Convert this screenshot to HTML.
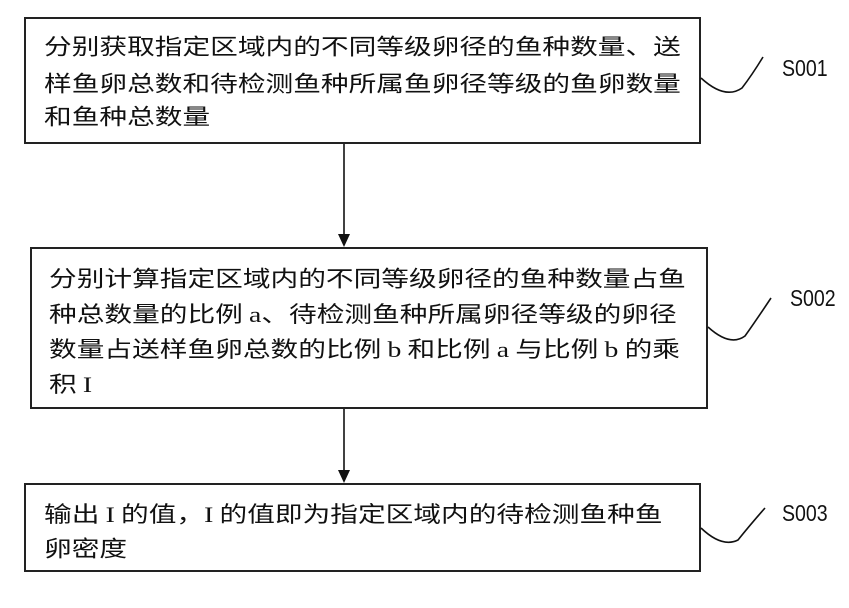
<!DOCTYPE html>
<html><head><meta charset="utf-8"><style>
html,body{margin:0;padding:0;background:#fff;}
body{width:849px;height:608px;position:relative;overflow:hidden;font-family:"Liberation Sans","Noto Sans CJK SC",sans-serif;}
.box{position:absolute;border:2px solid #222;box-sizing:border-box;background:#fff;}
.t{position:absolute;white-space:nowrap;font-size:27.7px;line-height:28px;color:#111;transform:scale(1,0.8);transform-origin:0 50%;font-family:"Noto Sans CJK SC","WenQuanYi Zen Hei",sans-serif;font-weight:400;}
.s{font-family:"Liberation Serif",serif;}
.lbl{position:absolute;font-size:23px;color:#111;transform:scale(0.85,1);transform-origin:0 0;}
</style></head><body>
<div class="box" style="left:24px;top:17px;width:677px;height:127px"></div>
<div class="t" style="left:44px;top:31px">分别获取指定区域内的不同等级卵径的鱼种数量、送</div>
<div class="t" style="left:44px;top:68px">样鱼卵总数和待检测鱼种所属鱼卵径等级的鱼卵数量</div>
<div class="t" style="left:44px;top:101px">和鱼种总数量</div>

<div class="box" style="left:30px;top:247px;width:678px;height:162px"></div>
<div class="t" style="left:49px;top:263px">分别计算指定区域内的不同等级卵径的鱼种数量占鱼</div>
<div class="t" style="left:49px;top:298px">种总数量的比例 <span class="s">a</span>、待检测鱼种所属卵径等级的卵径</div>
<div class="t" style="left:49px;top:333px">数量占送样鱼卵总数的比例 <span class="s">b</span> 和比例 <span class="s">a</span> 与比例 <span class="s">b</span> 的乘</div>
<div class="t" style="left:49px;top:368px">积 <span class="s">I</span></div>

<div class="box" style="left:24px;top:483px;width:677px;height:89px"></div>
<div class="t" style="left:44px;top:498px">输出 <span class="s">I</span> 的值，<span class="s">I</span> 的值即为指定区域内的待检测鱼种鱼</div>
<div class="t" style="left:44px;top:533px">卵密度</div>

<svg width="849" height="608" style="position:absolute;left:0;top:0" xmlns="http://www.w3.org/2000/svg">
<g stroke="#111" stroke-width="1.6" fill="none">
<line x1="344" y1="144" x2="344" y2="236"/>
<line x1="344" y1="409" x2="344" y2="472"/>
<path d="M701 78 Q725 100 742 88 Q752 75 763 57"/>
<path d="M708 327 Q730 347 745 336 Q755 322 771 298"/>
<path d="M701 528 Q722 548 738 540 Q750 525 765 508"/>
</g>
<polygon points="338,234 350,234 344,247" fill="#111"/>
<polygon points="338,470 350,470 344,483" fill="#111"/>
</svg>
<div class="lbl" style="left:782px;top:55px">S001</div>
<div class="lbl" style="left:790px;top:285px">S002</div>
<div class="lbl" style="left:782px;top:500px">S003</div>
</body></html>
